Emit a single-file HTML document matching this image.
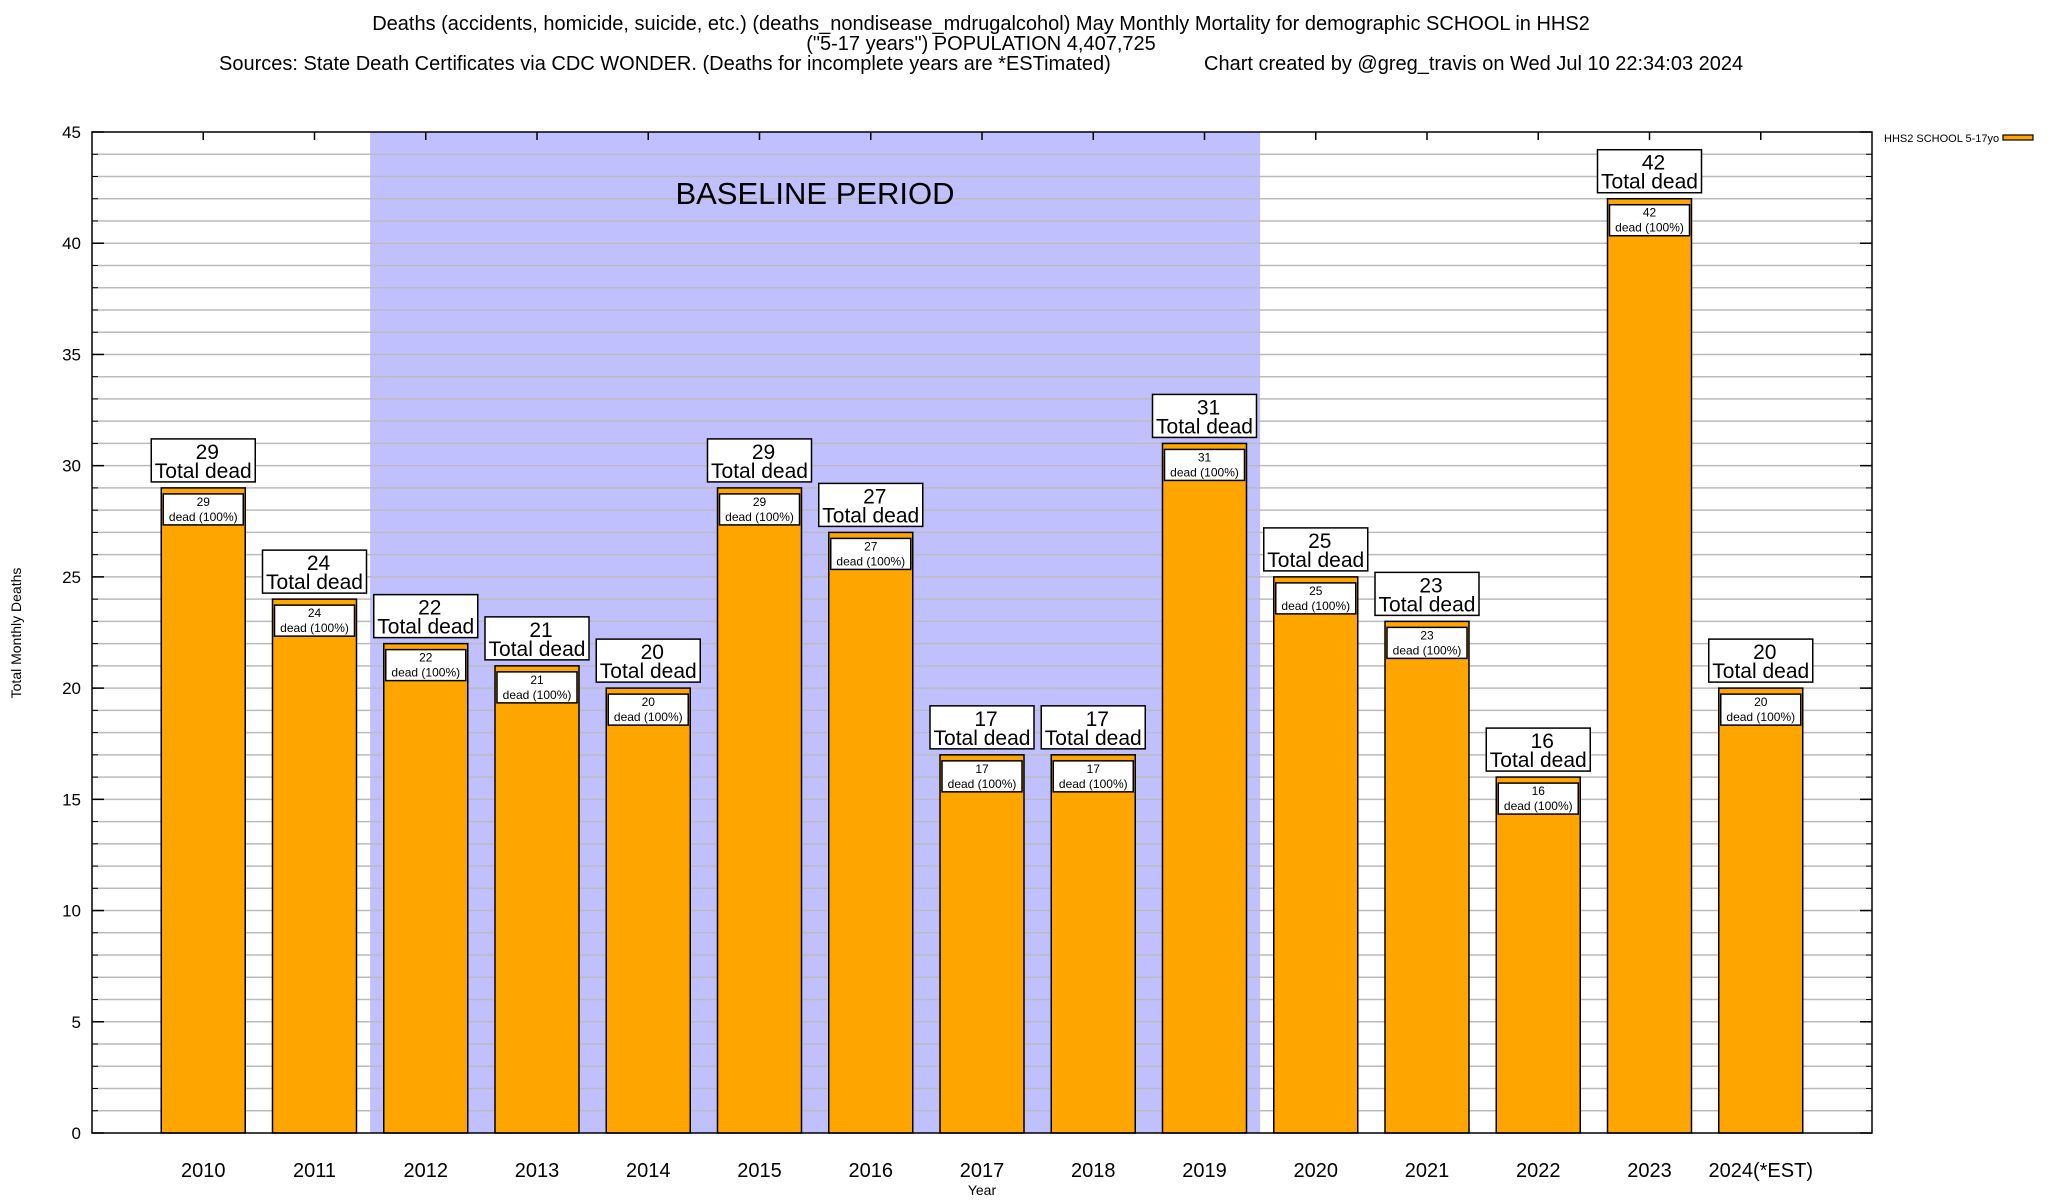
<!DOCTYPE html>
<html><head><meta charset="utf-8"><style>
html,body{margin:0;padding:0;background:#fff;}
svg{display:block;font-family:"Liberation Sans",Arial,sans-serif;}
</style></head><body>
<svg id="chart" width="2048" height="1200" viewBox="0 0 2048 1200">
<g font-size="20" fill="#000">
<text x="981" y="30" text-anchor="middle">Deaths (accidents, homicide, suicide, etc.) (deaths_nondisease_mdrugalcohol) May Monthly Mortality for demographic SCHOOL in HHS2</text>
<text x="981" y="50" text-anchor="middle">("5-17 years") POPULATION 4,407,725</text>
<text x="219" y="70">Sources: State Death Certificates via CDC WONDER. (Deaths for incomplete years are *ESTimated)</text>
<text x="1204" y="70">Chart created by @greg_travis on Wed Jul 10 22:34:03 2024</text>
</g>
<g id="plot"></g>
</svg>
<script>
const categories = ["2010","2011","2012","2013","2014","2015","2016","2017","2018","2019","2020","2021","2022","2023","2024(*EST)"];
const deaths = [29,24,22,21,20,29,27,17,17,31,25,23,16,42,20];
const yTicks = [0,5,10,15,20,25,30,35,40,45];
const baselineStart = 2, baselineEnd = 9;

const L=92,R=1872,T=132,B=1133,yMax=45;
const step=(R-L)/(categories.length+1);
const xc=i=>L+(i+1)*step;
const y=v=>B-(v/yMax)*(B-T);
const NS="http://www.w3.org/2000/svg";
const plot=document.getElementById('plot');
function mk(tag,attrs,parent){const e=document.createElementNS(NS,tag);for(const k in attrs)e.setAttribute(k,attrs[k]);(parent||plot).appendChild(e);return e;}

const bp=mk('rect',{x:xc(baselineStart)-step/2,y:T,width:(baselineEnd-baselineStart+1)*step,height:B-T,fill:'#c0c0ff'});



for(let v=1;v<yMax;v++){
  const g=mk('line',{x1:L,x2:R,y1:y(v),y2:y(v),stroke:'#bbb','stroke-width':1.5});
  
  
}
const bt=mk('text',{x:815,y:204,'font-size':31,'text-anchor':'middle',fill:'#000'});
bt.textContent='BASELINE PERIOD';



yTicks.forEach(v=>{
  const t=mk('text',{x:81,y:y(v)+6,'font-size':17,'text-anchor':'end'});
  t.textContent=v;
  
  
  mk('line',{x1:L,x2:L+12,y1:y(v),y2:y(v),stroke:'#000','stroke-width':1.5});
  mk('line',{x1:R,x2:R-12,y1:y(v),y2:y(v),stroke:'#000','stroke-width':1.5});
});
for(let v=1;v<yMax;v++){ if(v%5){mk('line',{x1:L,x2:L+6,y1:y(v),y2:y(v),stroke:'#000'});mk('line',{x1:R,x2:R-6,y1:y(v),y2:y(v),stroke:'#000'});} }

const bw=step*0.755;
categories.forEach((c,i)=>{
  const v=deaths[i],cx=xc(i),top=y(v);
  const bar=mk('rect',{x:cx-bw/2,y:top,width:bw,height:B-top,fill:'#ffa500',stroke:'#000','stroke-width':1.5});
  
  
  const ib=mk('rect',{x:cx-bw/2+2,y:top+6,width:bw-4,height:31,fill:'#fff',stroke:'#000','stroke-width':1.5});
  
  
  const it1=mk('text',{x:cx,y:top+18,'font-size':12,'text-anchor':'middle'});it1.textContent=v;
  
  
  const it2=mk('text',{x:cx,y:top+33,'font-size':12,'text-anchor':'middle'});it2.textContent='dead (100%)';
  
  
  const tb=mk('rect',{x:cx-52,y:top-49,width:104,height:43,fill:'#fff',stroke:'#000','stroke-width':1.5});
  
  
  const t1=mk('text',{x:cx+4,y:top-29,'font-size':21,'text-anchor':'middle'});t1.textContent=v;
  
  
  const t2=mk('text',{x:cx,y:top-10,'font-size':21,'text-anchor':'middle'});t2.textContent='Total dead';
  
  
  const xt=mk('text',{x:cx,y:1177,'font-size':20,'text-anchor':'middle'});xt.textContent=c;
  
  
  mk('line',{x1:cx,x2:cx,y1:T,y2:T+8,stroke:'#000','stroke-width':1.5});
});

const fr=mk('rect',{x:L,y:T,width:R-L,height:B-T,fill:'none',stroke:'#000','stroke-width':1.5});



const yl=mk('text',{x:0,y:0,'font-size':14,'text-anchor':'middle',transform:'translate(21,633) rotate(-90)'});
yl.textContent='Total Monthly Deaths';


const xl=mk('text',{x:982,y:1195,'font-size':14,'text-anchor':'middle'});
xl.textContent='Year';



const lg=mk('text',{x:1884,y:142,'font-size':11});
lg.textContent='HHS2 SCHOOL 5-17yo';


const ls=mk('rect',{x:2003,y:135,width:30,height:5,fill:'#ffa500',stroke:'#000','stroke-width':1.2});


</script>
</body></html>
